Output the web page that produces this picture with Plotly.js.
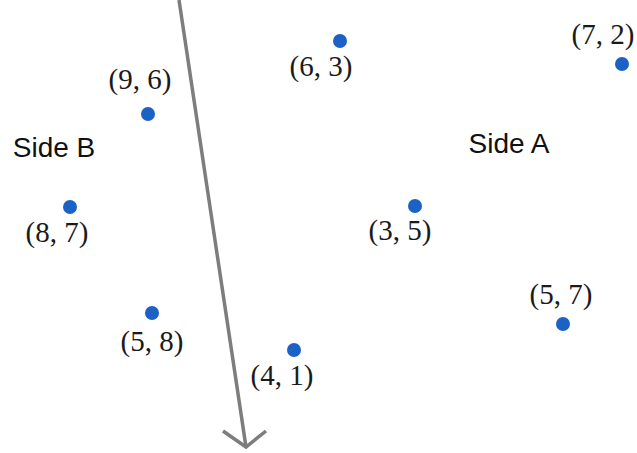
<!DOCTYPE html>
<html>
<head>
<meta charset="utf-8">
<script src="https://cdn.plot.ly/plotly-3.0.1.min.js"></script>
<style>
  html, body { margin: 0; padding: 0; background: #ffffff; }
  #chart { width: 637px; height: 453px; }
</style>
</head>
<body>
<div id="chart"></div>
<script>
// Point labels and where each point sits on the drawing plane
var pointLabels = ["(9, 6)", "(8, 7)", "(5, 8)", "(6, 3)", "(3, 5)", "(4, 1)", "(5, 7)", "(7, 2)"];
var pointX = [148, 70, 152, 340, 415, 294, 563, 622];
var pointY = [114, 207, 313, 41, 206, 350, 324, 64];

// Where each coordinate label is written
var labelX = [140, 57, 152, 321, 400, 282, 561, 603];
var labelY = [82, 235, 344, 69, 233, 378, 297, 37];

// Dividing line (arrow shaft) and its open head
var shaftX = [179, 246];
var shaftY = [0, 447];
var headX = [223, 246, 266];
var headY = [431, 447, 431];

// Side names
var sideNames = ["Side B", "Side A"];
var sideX = [54, 509];
var sideY = [150, 146];

var traces = [
  {
    x: shaftX, y: shaftY, mode: "lines", hoverinfo: "skip",
    line: { color: "#7d7d7d", width: 3.5 }
  },
  {
    x: headX, y: headY, mode: "lines", hoverinfo: "skip",
    line: { color: "#7d7d7d", width: 3.5 }
  },
  {
    x: pointX, y: pointY, mode: "markers", hoverinfo: "skip",
    marker: { color: "#1c62c6", size: 14, line: { width: 0 } }
  },
  {
    x: labelX, y: labelY, mode: "text", text: pointLabels, hoverinfo: "skip",
    textposition: "middle center",
    textfont: { family: "Liberation Serif, DejaVu Serif, serif", size: 29, color: "#1a1a1a" }
  },
  {
    x: sideX, y: sideY, mode: "text", text: sideNames, hoverinfo: "skip",
    textposition: "middle center",
    textfont: { family: "Liberation Sans, Arial, sans-serif", size: 28, color: "#111111" }
  }
];

var layout = {
  width: 637, height: 453,
  margin: { l: 0, r: 0, t: 0, b: 0 },
  paper_bgcolor: "#ffffff", plot_bgcolor: "#ffffff",
  showlegend: false,
  xaxis: { range: [0, 637], visible: false, fixedrange: true },
  yaxis: { range: [453, 0], visible: false, fixedrange: true }
};

Plotly.newPlot("chart", traces, layout, { displayModeBar: false, staticPlot: true });
</script>
</body>
</html>
